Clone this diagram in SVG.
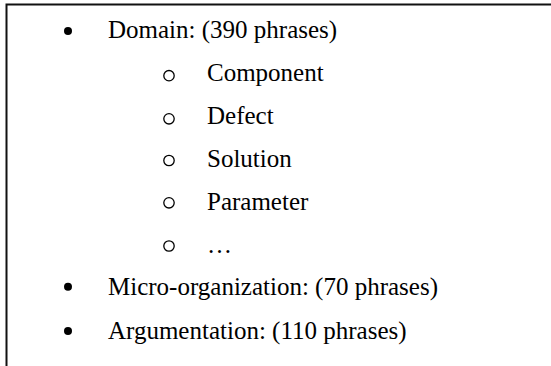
<svg xmlns="http://www.w3.org/2000/svg" width="551" height="366" viewBox="0 0 551 366">
<style>
text{font-family:"Liberation Serif","Times New Roman",serif;font-size:25px;fill:#000}
.dot{fill:#000}
.ring{fill:none;stroke:#000;stroke-width:1.3}
.frame{fill:none;stroke:#111;stroke-width:2}
</style>
<rect width="551" height="366" fill="#fff"/>
<path class="frame" d="M6.5,366 V4.5 H551"/>
<g id="domain"><circle class="dot" cx="68" cy="31" r="4"/><text x="108" y="38">Domain: (390 phrases)</text></g>
<g id="component"><circle class="ring" cx="169" cy="75.7" r="5.2"/><text x="207" y="81">Component</text></g>
<g id="defect"><circle class="ring" cx="169" cy="118.8" r="5.2"/><text x="207" y="124">Defect</text></g>
<g id="solution"><circle class="ring" cx="169" cy="160.5" r="5.2"/><text x="207" y="167">Solution</text></g>
<g id="parameter"><circle class="ring" cx="169" cy="202.8" r="5.2"/><text x="207" y="210">Parameter</text></g>
<g id="more"><circle class="ring" cx="169" cy="246" r="5.2"/><text x="207" y="253">…</text></g>
<g id="micro"><circle class="dot" cx="68" cy="286.7" r="4"/><text x="108" y="295">Micro-organization: (70 phrases)</text></g>
<g id="argumentation"><circle class="dot" cx="68" cy="331" r="4"/><text x="108" y="339">Argumentation: (110 phrases)</text></g>
</svg>
